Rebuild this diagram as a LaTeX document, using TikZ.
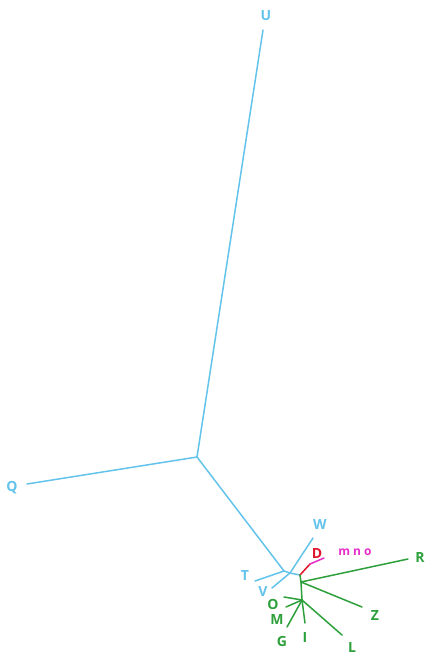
\documentclass[tikz,border=0pt]{standalone}
\usepackage{fontspec}
\setsansfont{Open Sans}
\usepackage{xcolor}
\definecolor{treeblue}{RGB}{100, 195, 235}
\definecolor{treegreen}{RGB}{45, 160, 60}
\definecolor{treered}{RGB}{225, 20, 45}
\definecolor{treemagenta}{RGB}{230, 45, 200}

\begin{document}
\begin{tikzpicture}[
    x=1pt, y=-1pt,
    branch/.style={line width=1.5pt, line cap=round},
    tip/.style={font=\sffamily\bfseries\fontsize{14}{14}\selectfont, inner sep=0pt}
]
    \useasboundingbox (0,0) rectangle (425,654);
    % inner points
    \coordinate (hub) at (197,457);
    \coordinate (tb) at (284,571);
    \coordinate (wv) at (290,573);
    \coordinate (gr) at (300,575);
    \coordinate (dd) at (310,564);
    \coordinate (rz) at (301,582);
    \coordinate (ff) at (302,600);
    % leaf ends
    \coordinate (u) at (263,30);
    \coordinate (q) at (27,484);
    \coordinate (t) at (255,581);
    \coordinate (w) at (313,538);
    \coordinate (v) at (272,588);
    \coordinate (mno) at (324,558);
    \coordinate (r) at (408,559);
    \coordinate (z) at (362,607);
    \coordinate (o) at (284,597);
    \coordinate (m) at (286,607);
    \coordinate (g) at (287,627);
    \coordinate (i) at (305,623);
    \coordinate (l) at (342,635);

    % blue part
    \draw[branch, treeblue] (u) -- (hub) -- (q);
    \draw[branch, treeblue] (hub) -- (tb) -- (t);
    \draw[branch, treeblue] (tb) -- (wv) -- (gr);
    \draw[branch, treeblue] (w) -- (wv) -- (v);
    % red and magenta
    \draw[branch, treered] (gr) -- (dd);
    \draw[branch, treemagenta] (dd) -- (mno);
    % green part
    \draw[branch, treegreen] (gr) -- (rz) -- (ff);
    \draw[branch, treegreen] (rz) -- (r);
    \draw[branch, treegreen] (rz) -- (z);
    \foreach \leaf in {o, m, g, i, l}
        \draw[branch, treegreen] (ff) -- (\leaf);

    % labels
    \node[tip, text=treeblue] (lu) at (266,16) {U};
    \node[tip, text=treeblue] (lq) at (12,488) {Q};
    \node[tip, text=treeblue] (lt) at (245,575) {T};
    \node[tip, text=treeblue] (lw) at (320,524) {W};
    \node[tip, text=treeblue] (lv) at (263,591) {V};
    \node[tip, text=treered] (ld) at (317,553) {D};
    \node[tip, text=treemagenta, font=\sffamily\bfseries\fontsize{12}{12}\selectfont] (lmno) at (355,552) {m n o};
    \node[tip, text=treegreen] (lr) at (420,557) {R};
    \node[tip, text=treegreen] (lz) at (375,615) {Z};
    \node[tip, text=treegreen] (lo) at (273,604) {O};
    \node[tip, text=treegreen] (lm) at (277,619) {M};
    \node[tip, text=treegreen] (lg) at (282,641) {G};
    \node[tip, text=treegreen] (li) at (305,637) {I};
    \node[tip, text=treegreen] (ll) at (352,647) {L};
\end{tikzpicture}
\end{document}
